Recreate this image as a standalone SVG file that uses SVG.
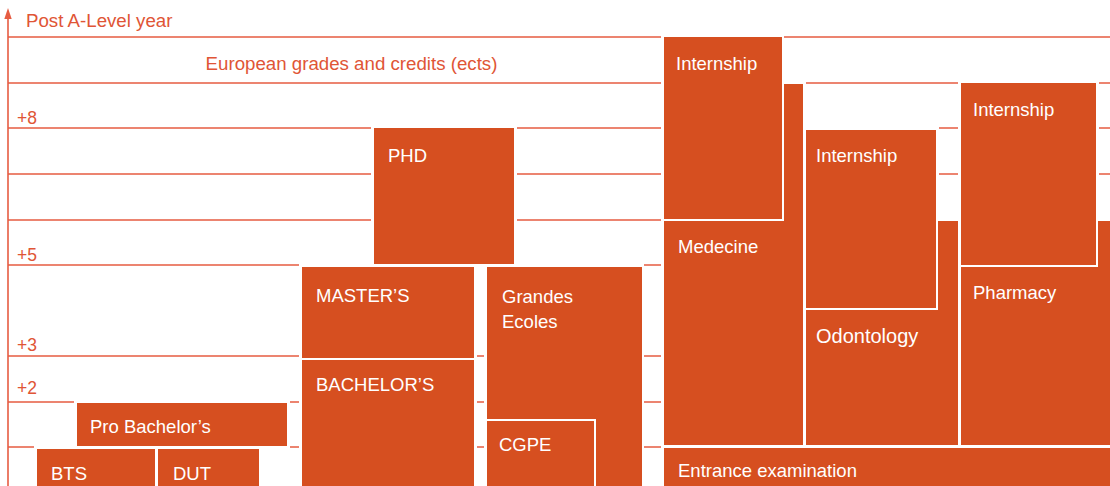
<svg xmlns="http://www.w3.org/2000/svg" width="1110" height="486" viewBox="0 0 1110 486">
<style>
.g{stroke:#e65c42;stroke-width:1.6;fill:none}
.b{fill:#d64f20;stroke:#fff;stroke-width:4;paint-order:stroke fill}
.t{font-family:"Liberation Sans",Arial,sans-serif;font-size:18.5px;fill:#fff}
.a{font-family:"Liberation Sans",Arial,sans-serif;font-size:18.7px;fill:#e05536}
.n{font-size:17.5px}
</style>
<rect width="1110" height="486" fill="#fff"/>
<g id="grid">
<line class="g" x1="8" y1="18" x2="8" y2="486"/>
<polygon points="8,8 4.3,19 11.7,19" fill="#e65c42"/>
<path class="g" d="M8 37H661M784 37H1110
M8 83H661M806 83H958M1099 83H1110
M8 128H371M517 128H661M939 128H958M1099 128H1110
M8 174H371M517 174H661M939 174H958M1099 174H1110
M8 220H371M517 220H661
M8 265H299M644 265H661
M8 356H299M477 356H484M644 356H661
M8 402H74M290 402H299M477 402H484M644 402H661
M8 447H34M290 447H299M477 447H484M644 447H661"/>
<text class="a" x="26" y="27">Post A-Level year</text>
<text class="a" x="351.5" y="70" text-anchor="middle">European grades and credits (ects)</text>
<text class="a n" x="17" y="124">+8</text>
<text class="a n" x="17" y="261">+5</text>
<text class="a n" x="17" y="351">+3</text>
<text class="a n" x="17" y="394">+2</text>
</g>
<g id="pro-bachelor"><rect class="b" x="77" y="403" width="210" height="43"/><text class="t" x="90" y="433">Pro Bachelor’s</text></g>
<g id="bts"><rect class="b" x="37" y="449" width="118" height="40"/><text class="t" x="51" y="480">BTS</text></g>
<g id="dut"><rect class="b" x="158" y="449" width="101" height="40"/><text class="t" x="173" y="480">DUT</text></g>
<g id="masters"><rect class="b" x="302" y="267" width="172" height="91"/><text class="t" x="316" y="302">MASTER’S</text></g>
<g id="bachelors"><rect class="b" x="302" y="360" width="172" height="129"/><text class="t" x="316" y="391">BACHELOR’S</text></g>
<g id="phd"><rect class="b" x="374" y="128" width="140" height="136"/><text class="t" x="388" y="162">PHD</text></g>
<g id="grandes-ecoles"><rect class="b" x="487" y="267" width="155" height="222"/><text class="t" x="502" y="303">Grandes</text><text class="t" x="502" y="328">Ecoles</text></g>
<g id="cgpe"><rect class="b" x="487" y="421" width="107" height="68"/><text class="t" x="499" y="451">CGPE</text></g>
<g id="medecine"><rect class="b" x="664" y="84" width="139" height="361"/><text class="t" x="678" y="253">Medecine</text></g>
<g id="internship-1"><rect class="b" x="664" y="37" width="118" height="182"/><text class="t" x="676" y="70">Internship</text></g>
<g id="odontology"><rect class="b" x="806" y="221" width="152" height="224"/><text class="t" x="816" y="343" style="font-size:20px">Odontology</text></g>
<g id="internship-2"><rect class="b" x="806" y="130" width="130" height="178"/><text class="t" x="816" y="162">Internship</text></g>
<g id="pharmacy"><rect class="b" x="961" y="221" width="152" height="224"/><text class="t" x="973" y="299">Pharmacy</text></g>
<g id="internship-3"><rect class="b" x="961" y="83" width="135" height="182"/><text class="t" x="973" y="116">Internship</text></g>
<g id="entrance"><rect class="b" x="664" y="448" width="449" height="41"/><text class="t" x="678" y="477">Entrance examination</text></g>
</svg>
